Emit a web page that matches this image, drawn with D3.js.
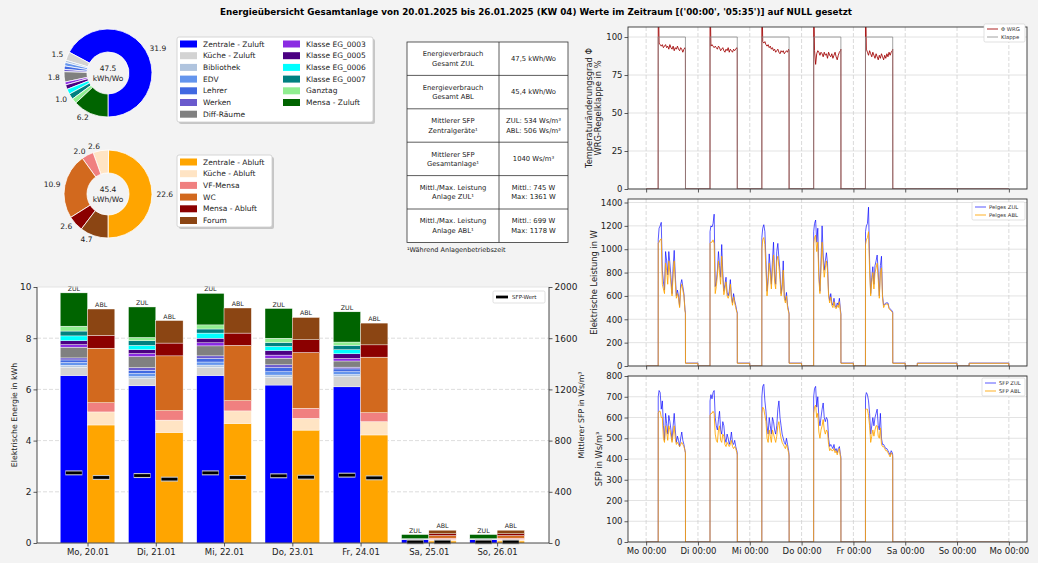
<!DOCTYPE html>
<html>
<head>
<meta charset="utf-8">
<script src="https://cdn.jsdelivr.net/npm/d3@7"></script>
<style>
  body { margin: 0; background: #f3f3f3; }
  svg text { font-family: "DejaVu Sans", sans-serif; }
</style>
</head>
<body>
<script>
// ---------- data ----------
const title = "Energieübersicht Gesamtanlage von 20.01.2025 bis 26.01.2025 (KW 04) Werte im Zeitraum [('00:00', '05:35')] auf NULL gesetzt";

const days = ["Mo, 20.01", "Di, 21.01", "Mi, 22.01", "Do, 23.01", "Fr, 24.01", "Sa, 25.01", "So, 26.01"];
const timeTicks = ["Mo 00:00", "Di 00:00", "Mi 00:00", "Do 00:00", "Fr 00:00", "Sa 00:00", "So 00:00", "Mo 00:00"];

const zulNames = ["Zentrale - Zuluft", "Küche - Zuluft", "Bibliothek", "EDV", "Lehrer", "Werken", "Diff-Räume",
  "Klasse EG_0003", "Klasse EG_0005", "Klasse EG_0006", "Klasse EG_0007", "Ganztag", "Mensa - Zuluft"];
const ablNames = ["Zentrale - Abluft", "Küche - Abluft", "VF-Mensa", "WC", "Mensa - Abluft", "Forum"];

// weekly totals (donuts), kWh/Wo
const donutZul = [31.9, 1.5, 0.4, 0.6, 0.6, 0.4, 1.8, 0.5, 0.8, 0.9, 1.0, 0.9, 6.2];
const donutAbl = [22.6, 2.6, 2.0, 10.9, 2.6, 4.7];
const donutZulTotal = "47.5";
const donutAblTotal = "45.4";

// daily energy per unit, kWh (Mo..So)
const zulZentrale   = [6.54, 6.14, 6.54, 6.17, 6.10, 0.13, 0.13];
const zulKueche     = [0.33, 0.28, 0.33, 0.30, 0.40, 0.01, 0.01];
const zulBibliothek = [0.07, 0.08, 0.08, 0.09, 0.08, 0.00, 0.00];
const zulEDV        = [0.11, 0.12, 0.12, 0.13, 0.11, 0.01, 0.01];
const zulLehrer     = [0.10, 0.13, 0.14, 0.16, 0.11, 0.00, 0.00];
const zulWerken     = [0.08, 0.10, 0.10, 0.11, 0.07, 0.00, 0.00];
const zulDiff       = [0.42, 0.43, 0.39, 0.26, 0.24, 0.02, 0.02];
const zulK3         = [0.10, 0.12, 0.12, 0.12, 0.10, 0.00, 0.00];
const zulK5         = [0.15, 0.15, 0.18, 0.18, 0.18, 0.00, 0.00];
const zulK6         = [0.19, 0.17, 0.20, 0.16, 0.16, 0.00, 0.00];
const zulK7         = [0.19, 0.18, 0.16, 0.15, 0.17, 0.00, 0.00];
const zulGanztag    = [0.19, 0.13, 0.16, 0.17, 0.13, 0.00, 0.00];
const zulMensa      = [1.30, 1.19, 1.23, 1.16, 1.18, 0.16, 0.16];

const ablZentrale = [4.61, 4.32, 4.67, 4.41, 4.22, 0.08, 0.08];
const ablKueche   = [0.51, 0.48, 0.49, 0.46, 0.52, 0.06, 0.06];
const ablVF       = [0.36, 0.37, 0.40, 0.39, 0.35, 0.05, 0.05];
const ablWC       = [2.13, 2.14, 2.16, 2.18, 2.17, 0.10, 0.10];
const ablMensa    = [0.50, 0.50, 0.48, 0.50, 0.48, 0.07, 0.07];
const ablForum    = [1.03, 0.88, 0.98, 0.87, 0.85, 0.14, 0.14];

// mean SFP per day, Ws/m³
const sfpWertZul = [548, 527, 548, 525, 530, 8, 8];
const sfpWertAbl = [512, 499, 512, 514, 509, 8, 8];

// table
const tableLabels = [["Energieverbrauch", "Gesamt ZUL"], ["Energieverbrauch", "Gesamt ABL"],
  ["Mittlerer SFP", "Zentralgeräte¹"], ["Mittlerer SFP", "Gesamtanlage¹"],
  ["Mittl./Max. Leistung", "Anlage ZUL¹"], ["Mittl./Max. Leistung", "Anlage ABL¹"]];
const tableValues = [["47,5 kWh/Wo"], ["45,4 kWh/Wo"], ["ZUL: 534 Ws/m³", "ABL: 506 Ws/m³"],
  ["1040 Ws/m³"], ["Mittl.: 745 W", "Max: 1361 W"], ["Mittl.: 699 W", "Max: 1178 W"]];
const tableNote = "¹Während Anlagenbetriebszeit";

// time series: values at these hours of each operating day (Mo..Fr)
const nullUntil = 5.58;   // 05:35
const opHours = [5.6, 6.0, 6.5, 7.0, 7.5, 8.0, 8.5, 9.0, 9.5, 10.0, 10.5, 11.0, 11.5, 12.0, 12.5,
  13.0, 13.5, 14.0, 14.5, 15.0, 15.5, 16.0, 16.5, 17.0, 17.5, 18.0, 18.2];

const wrg = [
  [130,96,95,94,95,93,94,95,93,94,92,95,93,92,94,91,93,92,94,92,91,93,92,90,92,93,92],
  [130,94,95,94,93,94,93,92,94,93,91,92,93,91,90,92,91,93,90,92,91,90,92,91,92,93,92],
  [130,97,96,97,95,94,95,93,94,92,93,91,92,90,91,92,90,89,91,90,91,89,90,91,90,92,91],
  [130,91,82,89,91,90,88,90,89,87,90,88,89,86,90,88,87,89,86,88,90,87,85,88,90,91,92],
  [130,92,90,88,91,89,87,90,88,86,89,87,85,88,86,89,87,85,88,86,89,87,90,88,90,91,92]
];
const klappe = [100, 100, 100, 100, 100, 0, 0];

const pelZul = [
  [1080,1180,1200,1230,820,720,650,980,900,780,980,880,760,620,850,990,780,600,650,600,510,700,740,680,620,480,460],
  [1150,1200,1190,1220,1300,680,720,820,980,860,760,1040,800,640,700,760,630,600,640,740,600,540,620,560,520,470,460],
  [1100,1180,1210,1150,900,640,760,960,840,700,900,1060,780,700,980,1050,920,800,620,700,900,600,560,630,520,470,450],
  [1150,1220,1250,1060,1180,800,640,900,1200,950,820,900,970,880,620,560,620,540,520,580,520,500,540,520,580,480,450],
  [1150,1200,1220,1360,900,620,760,850,700,860,900,950,800,600,860,940,600,520,530,540,540,540,500,490,480,470,460]
];
const pelAbl = [
  [1050,1060,1080,1090,700,660,620,880,820,700,900,800,700,600,780,900,720,580,620,580,500,660,700,650,600,470,450],
  [1050,1060,1060,1080,1050,620,680,780,900,800,700,940,740,610,660,720,600,580,610,700,580,520,590,540,500,460,450],
  [1000,1080,1100,1040,820,600,720,880,780,660,830,950,720,660,900,940,850,740,600,660,820,580,540,600,500,460,440],
  [1050,1100,1120,980,1060,740,620,840,1060,880,760,840,900,820,600,540,590,520,500,550,500,490,520,500,550,460,440],
  [1040,1080,1100,1150,820,600,720,800,660,800,840,880,740,580,800,840,580,500,520,530,530,530,490,480,470,460,450]
];
const pelStandbyZul = [25, 25, 25, 25, 25, 25, 25];
const pelStandbyAbl = [23, 23, 23, 23, 23, 23, 23];

const sfpZul = [
  [700,730,720,640,680,560,490,620,570,520,610,580,540,490,560,620,540,480,510,490,460,500,530,490,470,440,430],
  [680,710,690,720,730,600,560,540,590,630,540,520,580,560,500,480,520,500,470,490,530,480,470,490,460,440,430],
  [700,750,760,680,630,560,520,600,560,520,600,580,540,520,560,640,680,600,560,520,500,480,470,500,470,440,420],
  [700,740,750,650,700,600,560,600,640,670,600,580,600,590,500,460,470,460,450,470,440,450,430,450,460,420,410],
  [700,720,710,680,620,520,560,600,560,600,620,640,560,540,620,500,470,470,460,450,450,440,430,420,440,430,420]
];
const sfpAbl = [
  [620,630,630,600,600,500,480,560,530,490,560,540,510,480,520,560,500,470,480,470,460,470,480,470,460,440,430],
  [610,620,620,630,620,520,490,480,540,560,490,480,520,510,470,460,480,470,460,470,490,460,450,460,450,430,420],
  [620,650,640,610,580,500,480,540,510,480,540,520,500,480,510,560,580,530,500,480,470,460,450,470,450,430,410],
  [620,650,660,600,620,530,500,540,560,590,540,520,540,530,470,440,450,440,440,450,430,440,420,440,450,410,400],
  [640,640,640,610,560,480,510,540,510,540,560,560,510,500,550,470,460,460,450,440,440,430,420,410,430,420,410]
];

// ---------- styles ----------
const zulColors = ["#0000ff", "#d3d3d3", "#b0c4de", "#6495ed", "#4169e1", "#6a5acd", "#808080",
  "#8a2be2", "#4b0082", "#00ffff", "#008080", "#90ee90", "#006400"];
const ablColors = ["#ffa500", "#ffe4c4", "#f08080", "#d2691e", "#8b0000", "#8b4513"];
const FONT = "DejaVu Sans, sans-serif";
const plain = d => String(d);

const svg = d3.select("body").append("svg")
  .attr("width", 1038)
  .attr("height", 563)
  .style("background", "#f3f3f3");

function styleAxis(sel, fs) {
  sel.select(".domain").remove();
  sel.attr("font-family", FONT);
  sel.selectAll("text").attr("font-size", fs).attr("fill", "#222");
  sel.selectAll("line").attr("stroke", "#333").attr("stroke-width", 0.8);
}

// title
svg.append("text")
  .attr("x", 536).attr("y", 15)
  .attr("text-anchor", "middle")
  .attr("font-size", 9.5).attr("font-weight", "bold")
  .attr("textLength", 632).attr("lengthAdjust", "spacingAndGlyphs")
  .text(title);

// ---------- donuts ----------
function donut(cx, cy, values, colors, total) {
  const R = 44, r = 21;
  const g = svg.append("g").attr("transform", "translate(" + cx + "," + cy + ")");
  const arcs = d3.pie().sort(null).startAngle(Math.PI).endAngle(-Math.PI)(values);
  const arc = d3.arc().innerRadius(r).outerRadius(R);
  g.selectAll("path").data(arcs).join("path")
    .attr("d", arc)
    .attr("fill", (d, i) => colors[i])
    .attr("stroke", "white").attr("stroke-width", 0.8);
  g.selectAll("text.lab").data(arcs.filter(d => d.value >= 1.0)).join("text")
    .attr("class", "lab")
    .attr("x", d => Math.sin((d.startAngle + d.endAngle) / 2) * R * 1.1)
    .attr("y", d => -Math.cos((d.startAngle + d.endAngle) / 2) * R * 1.1)
    .attr("dy", "0.35em")
    .attr("text-anchor", d => Math.sin((d.startAngle + d.endAngle) / 2) > 0 ? "start" : "end")
    .attr("font-size", 7.5).attr("fill", "#222")
    .text(d => d.value.toFixed(1));
  g.append("text").attr("y", -2).attr("text-anchor", "middle").attr("font-size", 7.5).attr("fill", "#222").text(total);
  g.append("text").attr("y", 8).attr("text-anchor", "middle").attr("font-size", 7.5).attr("fill", "#222").text("kWh/Wo");
}
donut(108, 73, donutZul, zulColors, donutZulTotal);
donut(108, 194, donutAbl, ablColors, donutAblTotal);

function legendBox(x, y, w, h, names, colors, perCol, colX) {
  svg.append("rect").attr("x", x + 2).attr("y", y + 2).attr("width", w).attr("height", h)
    .attr("rx", 2).attr("fill", "#999").attr("opacity", 0.5);
  svg.append("rect").attr("x", x).attr("y", y).attr("width", w).attr("height", h)
    .attr("rx", 2).attr("fill", "white").attr("stroke", "#ccc").attr("stroke-width", 0.8);
  names.forEach((n, i) => {
    const c = Math.floor(i / perCol), k = i % perCol;
    const yy = y + 7 + k * 11.7;
    svg.append("rect").attr("x", x + colX[c]).attr("y", yy - 3.5).attr("width", 17).attr("height", 7).attr("fill", colors[i]);
    svg.append("text").attr("x", x + colX[c] + 23).attr("y", yy).attr("dy", "0.35em")
      .attr("font-size", 7.5).attr("fill", "#222").text(n);
  });
}
legendBox(177, 37, 196, 85, zulNames, zulColors, 7, [3, 106]);
legendBox(177, 155, 95, 72, ablNames, ablColors, 6, [3]);

// ---------- table ----------
const tb = { x0: 407, x1: 499, x2: 568, y0: 42, rh: 33.4 };
svg.append("rect").attr("x", tb.x0).attr("y", tb.y0).attr("width", tb.x2 - tb.x0).attr("height", tb.rh * 6)
  .attr("fill", "white").attr("stroke", "#333").attr("stroke-width", 0.8);
svg.append("line").attr("x1", tb.x1).attr("x2", tb.x1).attr("y1", tb.y0).attr("y2", tb.y0 + tb.rh * 6)
  .attr("stroke", "#333").attr("stroke-width", 0.8);
tableLabels.forEach((lab, i) => {
  const yc = tb.y0 + tb.rh * (i + 0.5);
  if (i > 0) svg.append("line").attr("x1", tb.x0).attr("x2", tb.x2).attr("y1", tb.y0 + tb.rh * i).attr("y2", tb.y0 + tb.rh * i)
    .attr("stroke", "#333").attr("stroke-width", 0.8);
  [[lab, (tb.x0 + tb.x1) / 2], [tableValues[i], (tb.x1 + tb.x2) / 2]].forEach(([lines, xc]) => {
    lines.forEach((t, j) => {
      svg.append("text").attr("x", xc).attr("y", yc + (j - (lines.length - 1) / 2) * 9.5).attr("dy", "0.35em")
        .attr("text-anchor", "middle").attr("font-size", 6.8).attr("fill", "#222").text(t);
    });
  });
});
svg.append("text").attr("x", tb.x0).attr("y", 252).attr("font-size", 6.5).attr("fill", "#222").text(tableNote);

// ---------- bar chart ----------
const bx = d3.scaleLinear().domain([-0.74, 6.76]).range([37, 549]);
const by = d3.scaleLinear().domain([0, 10]).range([543, 287]);
const bySfp = d3.scaleLinear().domain([0, 2000]).range([543, 287]);
const bw = bx(0.4) - bx(0);

svg.append("rect").attr("x", 37).attr("y", 287).attr("width", 512).attr("height", 256).attr("fill", "white");
svg.append("g").selectAll("line").data([2, 4, 6, 8]).join("line")
  .attr("x1", 37).attr("x2", 549).attr("y1", d => by(d)).attr("y2", d => by(d))
  .attr("stroke", "#d4d4d4").attr("stroke-width", 0.8).attr("stroke-dasharray", "4,2");

const zulCols = [zulZentrale, zulKueche, zulBibliothek, zulEDV, zulLehrer, zulWerken, zulDiff,
  zulK3, zulK5, zulK6, zulK7, zulGanztag, zulMensa];
const ablCols = [ablZentrale, ablKueche, ablVF, ablWC, ablMensa, ablForum];

function stackBars(cols, names, colors, offset, tag) {
  const rows = days.map((d, i) => {
    const r = { i: i };
    names.forEach((n, k) => r[n] = cols[k][i]);
    return r;
  });
  const layers = d3.stack().keys(names)(rows);
  const g = svg.append("g");
  layers.forEach((layer, k) => {
    g.append("g").selectAll("rect").data(layer).join("rect")
      .attr("x", d => bx(d.data.i + offset))
      .attr("width", bw)
      .attr("y", d => by(d[1]))
      .attr("height", d => by(d[0]) - by(d[1]))
      .attr("fill", colors[k])
      .attr("stroke", "white").attr("stroke-width", 0.4);
  });
  const top = layers[layers.length - 1];
  g.selectAll("text").data(top).join("text")
    .attr("x", d => bx(d.data.i + offset) + bw / 2)
    .attr("y", d => by(d[1]) - 2)
    .attr("text-anchor", "middle").attr("font-size", 6.3).attr("fill", "#222")
    .text(tag);
}
stackBars(zulCols, zulNames, zulColors, -0.4, "ZUL");
stackBars(ablCols, ablNames, ablColors, 0, "ABL");

// SFP markers
function sfpMarks(vals, offset) {
  const g = svg.append("g");
  vals.forEach((v, i) => {
    const xc = bx(i + offset);
    g.append("line").attr("x1", xc - 8.5).attr("x2", xc + 8.5).attr("y1", bySfp(v)).attr("y2", bySfp(v))
      .attr("stroke", "#c8c8c8").attr("stroke-width", 5);
    g.append("line").attr("x1", xc - 8).attr("x2", xc + 8).attr("y1", bySfp(v)).attr("y2", bySfp(v))
      .attr("stroke", "black").attr("stroke-width", 2.8);
  });
}
sfpMarks(sfpWertZul, -0.2);
sfpMarks(sfpWertAbl, 0.2);

// axes + frame
svg.append("g").attr("transform", "translate(37,0)")
  .call(d3.axisLeft(by).tickValues([0, 2, 4, 6, 8, 10]).tickFormat(plain).tickSize(3.5).tickPadding(2))
  .call(s => styleAxis(s, 9));
svg.append("g").attr("transform", "translate(549,0)")
  .call(d3.axisRight(bySfp).tickValues([0, 400, 800, 1200, 1600, 2000]).tickFormat(plain).tickSize(3.5).tickPadding(2))
  .call(s => styleAxis(s, 9));
svg.append("g").attr("transform", "translate(0,543)")
  .call(d3.axisBottom(bx).tickValues(d3.range(days.length)).tickFormat(i => days[i]).tickSize(3.5).tickPadding(2))
  .call(s => styleAxis(s, 8.5));
svg.append("line").attr("x1", 37).attr("x2", 549).attr("y1", 287).attr("y2", 287).attr("stroke", "#ddd").attr("stroke-width", 0.8);
svg.append("path").attr("d", "M37,287V543H549V287").attr("fill", "none").attr("stroke", "#333").attr("stroke-width", 0.9);
svg.append("text").attr("transform", "translate(17,415) rotate(-90)").attr("text-anchor", "middle")
  .attr("font-size", 7.8).attr("fill", "#222").text("Elektrische Energie in kWh");
svg.append("text").attr("transform", "translate(584,415) rotate(-90)").attr("text-anchor", "middle")
  .attr("font-size", 7.8).attr("fill", "#222").text("Mittlerer SFP in Ws/m³");
// legend SFP
svg.append("rect").attr("x", 493).attr("y", 291).attr("width", 52).attr("height", 12)
  .attr("rx", 1.5).attr("fill", "white").attr("stroke", "#ccc").attr("stroke-width", 0.6);
svg.append("line").attr("x1", 496).attr("x2", 508).attr("y1", 297).attr("y2", 297).attr("stroke", "black").attr("stroke-width", 2.8);
svg.append("text").attr("x", 512).attr("y", 297).attr("dy", "0.35em").attr("font-size", 5.5).attr("fill", "#222").text("SFP-Wert");

// ---------- time charts ----------
const tx = d3.scaleLinear().domain([-0.35, 7.35]).range([628, 1027]);

function buildSeries(vals, standby) {
  const pts = [];
  for (let d = 0; d < 7; d++) {
    pts.push([d, 0], [d + nullUntil / 24, 0]);
    if (d < vals.length) {
      opHours.forEach((h, i) => pts.push([d + h / 24, vals[d][i]]));
      pts.push([d + (opHours[opHours.length - 1] + 0.03) / 24, standby ? standby[d] : 0]);
    } else if (standby) {
      pts.push([d + opHours[0] / 24, standby[d]]);
    }
    if (standby) pts.push([d + 0.9995, standby[d]]);
  }
  pts.push([7, 0]);
  return pts;
}
function buildKlappe() {
  const pts = [];
  klappe.forEach((v, d) => {
    pts.push([d, 0], [d + nullUntil / 24, 0], [d + opHours[0] / 24, v],
      [d + opHours[opHours.length - 1] / 24, v], [d + (opHours[opHours.length - 1] + 0.03) / 24, 0]);
  });
  pts.push([7, 0]);
  return pts;
}

function timeChart(cfg) {
  const y = d3.scaleLinear().domain(cfg.domain).range([cfg.bottom, cfg.top]);
  const g = svg.append("g");
  const x0 = tx.range()[0], x1 = tx.range()[1];
  g.append("rect").attr("x", x0).attr("y", cfg.top).attr("width", x1 - x0).attr("height", cfg.bottom - cfg.top).attr("fill", "white");
  g.append("g").selectAll("line").data(cfg.ticks).join("line")
    .attr("x1", x0).attr("x2", x1).attr("y1", d => y(d)).attr("y2", d => y(d))
    .attr("stroke", "#dcdcdc").attr("stroke-width", 0.8);
  g.append("g").selectAll("line").data(d3.range(timeTicks.length)).join("line")
    .attr("x1", d => tx(d)).attr("x2", d => tx(d)).attr("y1", cfg.top).attr("y2", cfg.bottom)
    .attr("stroke", "#d0d0d0").attr("stroke-width", 0.8).attr("stroke-dasharray", "4,2");
  const id = "clip" + cfg.top;
  svg.append("clipPath").attr("id", id).append("rect")
    .attr("x", x0).attr("y", cfg.top).attr("width", x1 - x0).attr("height", cfg.bottom - cfg.top);
  const line = d3.line().x(p => tx(p[0])).y(p => y(p[1]));
  cfg.series.forEach(s => {
    g.append("path").datum(s.points)
      .attr("clip-path", "url(#" + id + ")")
      .attr("d", line).attr("fill", "none")
      .attr("stroke", s.color).attr("stroke-width", 1).attr("opacity", s.opacity)
      .attr("stroke-linejoin", "round");
  });
  g.append("g").attr("transform", "translate(" + x0 + ",0)")
    .call(d3.axisLeft(y).tickValues(cfg.ticks).tickFormat(plain).tickSize(3.5).tickPadding(2))
    .call(s => styleAxis(s, 8.5));
  g.append("g").attr("transform", "translate(0," + cfg.bottom + ")")
    .call(d3.axisBottom(tx).tickValues(d3.range(timeTicks.length)).tickSize(3.5).tickPadding(2)
      .tickFormat(i => cfg.showX ? timeTicks[i] : ""))
    .call(s => styleAxis(s, 8.5));
  g.append("rect").attr("x", x0).attr("y", cfg.top).attr("width", x1 - x0).attr("height", cfg.bottom - cfg.top)
    .attr("fill", "none").attr("stroke", "#333").attr("stroke-width", 0.9);
  const ym = (cfg.top + cfg.bottom) / 2;
  cfg.ylabel.forEach((t, j) => {
    g.append("text").attr("transform", "translate(" + (cfg.labelX + j * 9) + "," + ym + ") rotate(-90)")
      .attr("text-anchor", "middle").attr("font-size", 8.3).attr("fill", "#222").text(t);
  });
  // legend
  const L = cfg.legend;
  g.append("rect").attr("x", L.x).attr("y", L.y).attr("width", L.w).attr("height", 18)
    .attr("rx", 1.5).attr("fill", "white").attr("stroke", "#ccc").attr("stroke-width", 0.6);
  cfg.series.forEach((s, i) => {
    const yy = L.y + 5 + i * 8;
    g.append("line").attr("x1", L.x + 3).attr("x2", L.x + 14).attr("y1", yy).attr("y2", yy)
      .attr("stroke", s.color).attr("stroke-width", 1).attr("opacity", s.opacity);
    g.append("text").attr("x", L.x + 17).attr("y", yy).attr("dy", "0.35em")
      .attr("font-size", 5.3).attr("fill", "#333").text(s.name);
  });
}

timeChart({
  top: 27, bottom: 189, domain: [0, 106.6], ticks: [0, 25, 50, 75, 100], showX: false,
  ylabel: ["Temperaturänderungsgrad Φ", "WRG-Regelklappe in %"], labelX: 592,
  legend: { x: 984, y: 24, w: 41 },
  series: [
    { name: "Φ WRG", color: "#a00000", opacity: 0.85, points: buildSeries(wrg, null) },
    { name: "Klappe", color: "#8c8c8c", opacity: 0.8, points: buildKlappe() }
  ]
});
timeChart({
  top: 199, bottom: 366, domain: [0, 1430], ticks: [0, 200, 400, 600, 800, 1000, 1200, 1400], showX: false,
  ylabel: ["Elektrische Leistung in W"], labelX: 597,
  legend: { x: 972, y: 202, w: 53 },
  series: [
    { name: "Pelges ZUL", color: "#0000ff", opacity: 0.65, points: buildSeries(pelZul, pelStandbyZul) },
    { name: "Pelges ABL", color: "#ffa500", opacity: 0.85, points: buildSeries(pelAbl, pelStandbyAbl) }
  ]
});
timeChart({
  top: 376, bottom: 542, domain: [0, 800], ticks: [0, 100, 200, 300, 400, 500, 600, 700, 800], showX: true,
  ylabel: ["SFP in Ws/m³"], labelX: 602,
  legend: { x: 982, y: 378, w: 43 },
  series: [
    { name: "SFP ZUL", color: "#0000ff", opacity: 0.65, points: buildSeries(sfpZul, null) },
    { name: "SFP ABL", color: "#ffa500", opacity: 0.85, points: buildSeries(sfpAbl, null) }
  ]
});
</script>
</body>
</html>
